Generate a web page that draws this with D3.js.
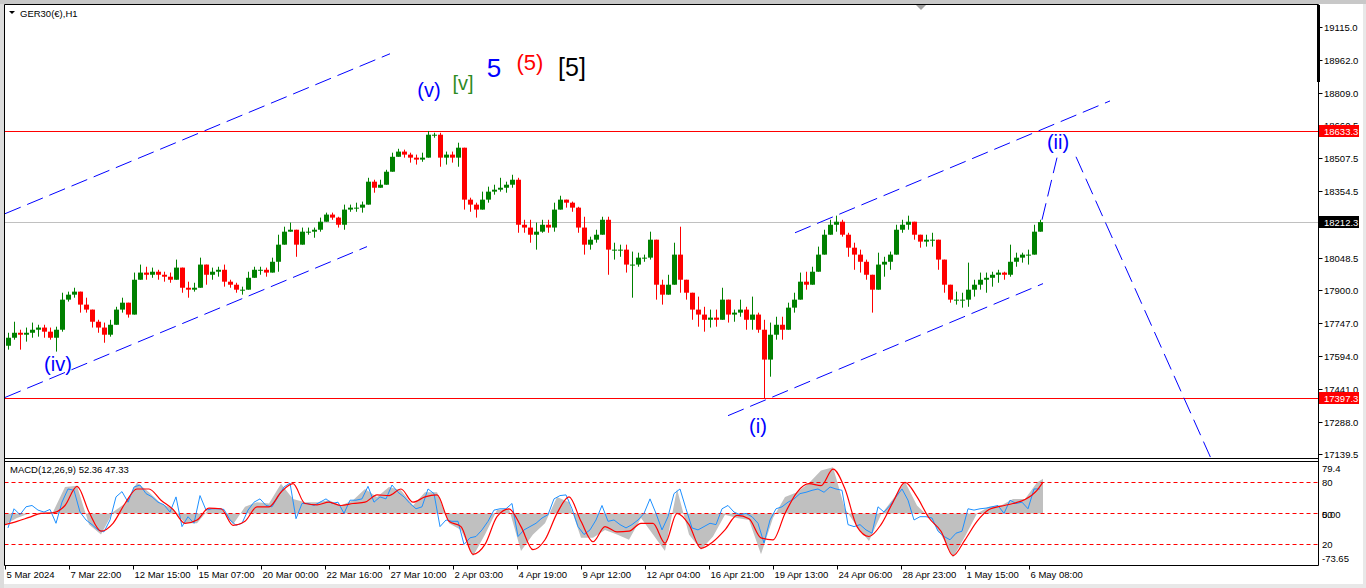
<!DOCTYPE html>
<html><head><meta charset="utf-8">
<script src="https://cdn.jsdelivr.net/npm/d3@7"></script>
<style>
html,body{margin:0;padding:0;background:#e8e8e8;overflow:hidden}
svg{display:block}
text{font-family:"Liberation Sans",Arial,sans-serif}
</style></head><body>
<svg id="c" width="1366" height="588"></svg>
<script>
// ---------------- DATA ----------------
const symbolTitle = "GER30(€),H1";
const macdTitle = "MACD(12,26,9) 52.36 47.33";
const barsPerCandle = 6;           // each drawn candle aggregates 6 hourly bars
const firstOpen = 17641;
const candleHigh = [17701,17752,17715,17725,17748,17738,17738,17725,17729,17886,
17891,17909,17886,17863,17799,17761,17748,17761,17821,17863,
17831,17979,18016,18006,18002,17992,17983,17979,18039,17992,
17937,17932,18048,18006,18002,18006,18016,17946,17932,17914,
17983,18006,18006,18002,18048,18154,18191,18210,18177,18187,
18187,18187,18233,18256,18256,18237,18293,18293,18302,18307,
18417,18408,18408,18454,18533,18551,18547,18533,18524,18533,
18633.3,18625,18625,18538,18538,18579,18547,18325,18302,18353,
18376,18385,18417,18399,18431,18417,18223,18223,18210,18223,
18223,18302,18334,18316,18307,18283,18237,18145,18177,18237,
18237,18117,18108,18108,18076,18071,18062,18168,18131,17946,
17969,18117,18191,17932,17877,17868,17821,17808,17808,17909,
17821,17808,17854,17821,17868,17794,17761,17748,17775,17775,
17840,17886,17979,17983,18006,18099,18177,18223,18242,18223,
18163,18117,18085,18039,17946,18071,18052,18076,18200,18223,
18242,18191,18154,18154,18163,18076,17955,17891,17891,17886,
18025,17946,17979,17979,17983,17992,17983,18108,18071,18071,
18085,18200,18223];
const candleLow = [17623,17669,17623,17660,17678,17683,17678,17669,17614,17706,
17845,17863,17794,17794,17725,17701,17655,17683,17761,17794,
17771,17821,17946,17946,17955,17946,17937,17932,17955,17886,
17863,17891,17914,17923,17946,17960,17914,17909,17886,17877,
17914,17960,17969,17960,17979,17983,18145,18168,18052,18145,
18154,18140,18168,18223,18223,18187,18177,18260,18260,18256,
18353,18348,18376,18385,18454,18514,18510,18487,18478,18491,
18561,18602,18468,18478,18487,18468,18270,18260,18233,18270,
18302,18339,18353,18348,18371,18163,18163,18117,18085,18163,
18163,18168,18279,18279,18260,18163,18062,18085,18117,18154,
17969,18039,18052,17979,17863,18006,18029,18039,17854,17831,
17886,17946,17886,17854,17761,17729,17706,17725,17729,17761,
17748,17752,17775,17715,17715,17701,17397.3,17498,17669,17669,
17761,17794,17886,17900,17946,17992,18099,18163,18168,18145,
18052,17992,17979,17946,17794,17932,17960,17992,18071,18163,
18177,18131,18094,18099,18099,17992,17886,17840,17831,17817,
17821,17868,17900,17886,17914,17932,17946,17960,18006,18025,
18016,18099,18177];
const candleClose = [17678,17701,17692,17701,17715,17725,17706,17678,17715,17854,
17877,17891,17831,17808,17752,17725,17692,17738,17808,17840,
17785,17946,17979,17969,17983,17969,17960,17946,18002,17909,
17900,17909,18016,17969,17983,17992,17937,17923,17900,17900,
17955,17992,17992,17979,18029,18108,18168,18177,18108,18168,
18168,18177,18214,18247,18233,18200,18270,18279,18279,18293,
18399,18371,18385,18445,18514,18538,18524,18510,18501,18510,
18616,18616,18510,18524,18510,18556,18316,18293,18270,18316,
18353,18362,18371,18385,18408,18200,18187,18154,18168,18200,
18187,18270,18316,18302,18279,18187,18108,18131,18154,18223,
18085,18085,18085,18016,18016,18048,18048,18131,17923,17877,
17923,18062,17946,17886,17808,17785,17761,17771,17761,17854,
17785,17794,17808,17761,17785,17715,17577,17692,17738,17715,
17817,17854,17937,17923,17983,18062,18154,18200,18214,18154,
18094,18062,18029,17969,17900,18016,18029,18062,18177,18200,
18214,18154,18122,18131,18131,18039,17923,17854,17854,17854,
17900,17923,17946,17955,17969,17979,17969,18029,18048,18062,
18062,18168,18212.3];

// MACD
const macdBlue = [-22,7,-2,10,12,5,2,6,-15,17, 37,35,2,-10,-17,-25,-28,-10,25,33,
17,40,43,30,25,17,13,2,25,-20, -5,-15,27,5,7,7,6,-10,-18,-15,
5,17,22,12,10,25,40,46,-8,15, 15,12,17,22,15,17,0,20,20,22,
41,17,25,22,43,32,25,15,7,10, 37,30,-20,-10,-12,-12,-47,-37,-35,-25,
-12,5,7,7,15,-35,-25,-20,-15,-7, -2,22,27,28,7,-20,-32,-25,-10,12,
-12,-10,-17,-22,-17,-10,0,22,0,-25, -5,30,37,7,-22,-25,-20,-15,-17,7,
12,2,-2,0,-5,-15,-45,-10,7,10, 17,22,30,32,35,37,32,40,37,35,
-17,-20,-17,-25,-30,10,2,12,25,37, 20,-10,-5,-5,-7,-27,-35,-40,-30,-27,
7,5,7,8,10,12,0,20,15,17, 7,37,37];
const macdStep = 12;   // red and histogram read every 12 hourly bars
const macdSignal = [-17,-12,-6,0,1,12,41,2,-27,-15, 15,37,37,20,6,-15,-10,8,7,-18,
-12,10,10,32,45,15,13,17,12,15, 17,28,27,37,17,25,28,-12,-20,-62,
-47,-5,7,-20,-55,-40,0,25,-12,-43, -20,-28,-27,-15,-15,-45,0,-17,-53,-43,
-25,-3,-8,-37,-40,0,32,45,42,67, 37,-20,-35,-17,17,47,25,-7,-27,-64,
-40,-12,6,11,15,21,35,47.33];
const macdHist = [-17,-7,0,1,2,40,42,-17,-32,2, 15,47,32,15,7,-15,-15,7,8,-17,
10,17,15,45,22,17,17,20,12,20, 37,25,40,35,12,32,32,-15,-25,-65,
-32,5,7,-57,-32,-15,25,17,-37,-37, -25,-32,-40,-7,-32,-57,37,-32,-55,-35,
-2,-7,-10,-62,-7,25,32,46,65,70, 7,-20,-42,-2,22,48,12,-6,-32,-67,
-35,0,10,12,22,22,47,52.36];
const macdLevels = [47, 0, -47];
const macdLevelLabels = ["80", "50", "20"];
const macdMax = 79.4, macdMin = -73.65;

// axes
const priceTicks = [19115.0,18962.0,18809.0,18660.5,18507.5,18354.5,18201.5,18048.5,17900.0,17747.0,17594.0,17441.0,17288.0,17139.5];
const timeLabels = ["5 Mar 2024","7 Mar 22:00","12 Mar 15:00","15 Mar 07:00","20 Mar 00:00","22 Mar 16:00","27 Mar 10:00","2 Apr 03:00","4 Apr 19:00","9 Apr 12:00","12 Apr 04:00","16 Apr 21:00","19 Apr 13:00","24 Apr 06:00","28 Apr 23:00","1 May 15:00","6 May 08:00"];
const barsPerTimeLabel = 64;
const lastBar = 1038;

// levels
const highLevel = 18633.3, lowLevel = 17397.3, bidPrice = 18212.3;

// channel & projection lines: [bar, price] pairs
const channelLines = [
  [[0,18251],[385,18990]],
  [[0,17402],[362,18099]],
  [[723,17318],[1038,17928]],
  [[790,18163],[1105,18772]]
];
const projectionLines = [
  [[1037,18223],[1052,18510]],
  [[1071,18514],[1207,17110]]
];
// wave labels
const waveText  = ["(iv)","(v)","[v]","5","(5)","[5]","(i)","(ii)"];
const waveBar   = [53,424,458,489,525,567,753,1053];
const wavePrice = [17558,18824,18856,18926,18949,18931,17272,18583];
const waveStyle = [
  {c:"#0000ff",s:20},{c:"#0000ff",s:20},{c:"#2e8b22",s:20},{c:"#0000ff",s:26},
  {c:"#ff0000",s:22},{c:"#000000",s:25},{c:"#0000ff",s:20},{c:"#0000ff",s:20}];

// ---------------- DRAW ----------------
const svg = d3.select("#c");
const L = 4.5, R = 1318.5, PT = 4.5, PB = 458.5, MT = 461.5, MB = 565.5;
const x = d3.scaleLinear().domain([0, 1313]).range([5, 1318]);
const y = d3.scaleLinear().domain([17139.5, 19115]).range([454.3, 26.7]);
const ym = d3.scaleLinear().domain([macdMin, macdMax]).range([562, 461]);

svg.append("rect").attr("x",0).attr("y",0).attr("width",1366).attr("height",4).attr("fill","#c8c8c8");
svg.append("rect").attr("x",0).attr("y",4).attr("width",4).attr("height",584).attr("fill","#dcdcdc");
svg.append("rect").attr("x",4).attr("y",4).attr("width",1359).attr("height",580).attr("fill","#fff");

const defs = svg.append("defs");
defs.append("clipPath").attr("id","pc").append("rect").attr("x",L).attr("y",PT).attr("width",R-L).attr("height",PB-PT);
defs.append("clipPath").attr("id","mc").append("rect").attr("x",L).attr("y",MT).attr("width",R-L).attr("height",MB-MT);

const pg = svg.append("g").attr("clip-path","url(#pc)");
// horizontal lines
pg.append("line").attr("x1",L).attr("x2",R).attr("y1",Math.round(y(bidPrice))+0.5).attr("y2",Math.round(y(bidPrice))+0.5).attr("stroke","#c0c0c0");
[highLevel, lowLevel].forEach(v=>{
  pg.append("line").attr("x1",L).attr("x2",R).attr("y1",Math.round(y(v))+0.5).attr("y2",Math.round(y(v))+0.5).attr("stroke","#ff0000").attr("stroke-width",1);
});
// candles
const candles = candleClose.map((c,i)=>{
  const o = i===0 ? firstOpen : candleClose[i-1];
  return {i,o,c,h:Math.max(candleHigh[i],o,c),l:Math.min(candleLow[i],o,c)};
});
const cg = pg.append("g");
candles.forEach(d=>{
  const cx = Math.round(x(d.i*barsPerCandle+3))+0.5;
  const col = d.c>=d.o ? "#008000" : "#ff0000";
  cg.append("line").attr("x1",cx).attr("x2",cx).attr("y1",y(d.h)).attr("y2",y(d.l)).attr("stroke",col).attr("stroke-width",1);
  const top = y(Math.max(d.o,d.c)), bot = y(Math.min(d.o,d.c));
  cg.append("rect").attr("x",cx-2.5).attr("width",5).attr("y",top).attr("height",Math.max(1,bot-top)).attr("fill",col);
});
// channels
const lineGen = d3.line().x(d=>x(d[0])).y(d=>y(d[1]));
channelLines.concat(projectionLines).forEach(seg=>{
  pg.append("path").attr("d",lineGen(seg)).attr("fill","none").attr("stroke","#0000ff").attr("stroke-width",1).attr("stroke-dasharray","17,7");
});
// wave labels
waveText.forEach((t,i)=>{
  svg.append("text").attr("x",x(waveBar[i])).attr("y",y(wavePrice[i])).attr("text-anchor","middle")
    .attr("dominant-baseline","central").attr("fill",waveStyle[i].c).attr("font-size",waveStyle[i].s).text(t);
});

// MACD panel
const mg = svg.append("g").attr("clip-path","url(#mc)");
const histPts = macdHist.map((v,k)=>({b:Math.min(k*macdStep,lastBar),v}));
mg.append("path").datum(histPts).attr("fill","#c0c0c0")
  .attr("d",d3.area().x(d=>x(d.b)).y0(ym(0)).y1(d=>ym(d.v)));
macdLevels.forEach(v=>{
  mg.append("line").attr("x1",L).attr("x2",R).attr("y1",Math.round(ym(v))+0.5).attr("y2",Math.round(ym(v))+0.5)
    .attr("stroke","#ff0000").attr("stroke-dasharray","4,3");
});
mg.append("path").datum(macdBlue.map((v,j)=>({b:j*barsPerCandle+3,v}))).attr("fill","none").attr("stroke","#1e90ff").attr("stroke-width",1)
  .attr("d",d3.line().x(d=>x(d.b)).y(d=>ym(d.v)));
mg.append("path").datum(macdSignal.map((v,k)=>({b:Math.min(k*macdStep,lastBar),v}))).attr("fill","none").attr("stroke","#ff0000").attr("stroke-width",1.2)
  .attr("d",d3.line().curve(d3.curveMonotoneX).x(d=>x(d.b)).y(d=>ym(d.v)));

// borders
const bl = (x1,y1,x2,y2)=>svg.append("line").attr("x1",x1).attr("y1",y1).attr("x2",x2).attr("y2",y2).attr("stroke","#000").attr("stroke-width",1);
bl(L,PT,R,PT); bl(L,PT,L,MB); bl(L,PB,R,PB); bl(L,MT,R,MT); bl(L,MB,R,MB); bl(R,PT,R,MB);
svg.append("rect").attr("x",1317).attr("y",5).attr("width",3).attr("height",77).attr("fill","#000");
svg.append("path").attr("d","M916,5L926,5L921,10Z").attr("fill","#a0a0a0");

// title
svg.append("path").attr("d","M9,11L15,11L12,14Z").attr("fill","#000");
svg.append("text").attr("x",20).attr("y",13.5).attr("dominant-baseline","central").attr("font-size",9.5).text(symbolTitle);
svg.append("text").attr("x",10).attr("y",469).attr("dominant-baseline","central").attr("font-size",9.5).text(macdTitle);

// price axis
const ax = svg.append("g");
priceTicks.forEach(t=>{
  const yy = Math.round(y(t))+0.5;
  ax.append("line").attr("x1",R).attr("x2",R+4).attr("y1",yy).attr("y2",yy).attr("stroke","#000");
  ax.append("text").attr("x",1324).attr("y",yy).attr("dominant-baseline","central").attr("font-size",9.5).text(t.toFixed(1));
});
[[highLevel,"#ff0000"],[bidPrice,"#000000"],[lowLevel,"#ff0000"]].forEach(([v,c])=>{
  const yy = Math.round(y(v));
  ax.append("rect").attr("x",R+0.5).attr("y",yy-6).attr("width",40).attr("height",12).attr("fill",c);
  ax.append("text").attr("x",1324).attr("y",yy+0.5).attr("dominant-baseline","central").attr("font-size",9.5).attr("fill","#fff").text(v.toFixed(1));
});
// macd axis
const macdAxisLabels = [[macdMax.toFixed(1), ym(macdMax)+7],[macdMin.toFixed(2), ym(macdMin)-4],["0.00", ym(0)+1.5]];
macdLevels.forEach((v,i)=>macdAxisLabels.push([macdLevelLabels[i], ym(v)+(v===0?1.5:0)]));
macdAxisLabels.forEach(([t,yy])=>{
  ax.append("text").attr("x",1322).attr("y",yy).attr("dominant-baseline","central").attr("font-size",9.5).text(t);
});
// time axis
timeLabels.forEach((t,k)=>{
  const xx = Math.round(x(k*barsPerTimeLabel))+0.5;
  ax.append("line").attr("x1",xx).attr("x2",xx).attr("y1",MB).attr("y2",MB+4).attr("stroke","#000");
  ax.append("text").attr("x",xx+1).attr("y",574.5).attr("dominant-baseline","central").attr("font-size",9.5).text(t);
});
</script>
</body></html>
